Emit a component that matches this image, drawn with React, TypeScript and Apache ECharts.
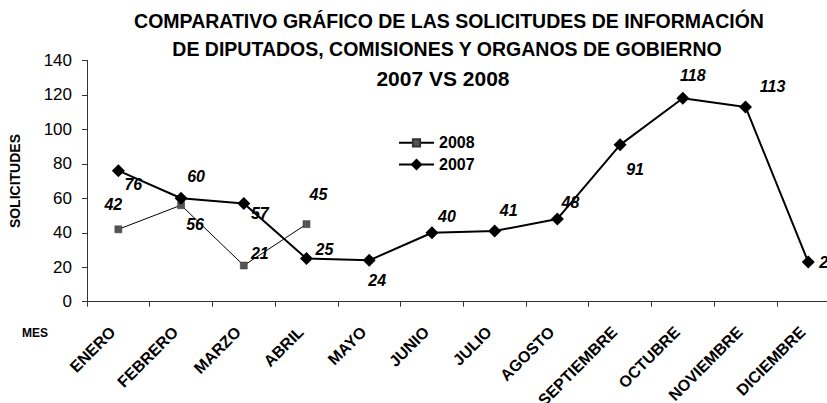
import React, { useEffect, useRef } from "react";
import * as echarts from "echarts";

const months = [
  "ENERO", "FEBRERO", "MARZO", "ABRIL", "MAYO", "JUNIO",
  "JULIO", "AGOSTO", "SEPTIEMBRE", "OCTUBRE", "NOVIEMBRE", "DICIEMBRE",
];
const values2007 = [76, 60, 57, 25, 24, 40, 41, 48, 91, 118, 113, 23];
const values2008 = [42, 56, 21, 45];
const seriesNames = ["2008", "2007"];
const titleLines = [
  "COMPARATIVO GRÁFICO DE LAS SOLICITUDES DE INFORMACIÓN",
  "DE DIPUTADOS, COMISIONES Y ORGANOS DE GOBIERNO",
  "2007 VS 2008",
];
const yName = "SOLICITUDES";
const xName = "MES";

// label placement (offsets from each point, in px)
const labelOffsets2007 = [
  [15, 14], [15, -22], [16, 10], [18, -9], [8, 20], [15, -16],
  [14, -21], [13, -16], [15, 25], [10, -23], [27, -20], [20, 0],
];
const labelOffsets2008 = [[-5, -25], [14, 19], [16, -12], [12, -30]];

const FONT = "'Liberation Sans', Arial, sans-serif";

export default function App() {
  const ref = useRef<HTMLDivElement>(null);
  useEffect(() => {
    if (!ref.current) return;
    const chart = echarts.init(ref.current, undefined, { renderer: "svg" });
    const labelStyle = {
      show: true,
      position: "inside",
      fontSize: 16,
      fontWeight: "bold",
      fontStyle: "italic",
      fontFamily: FONT,
      color: "#000",
    };
    const legendText = { fontSize: 16, fontWeight: "bold", color: "#000", fontFamily: FONT };
    const titleText = (text: string, x: number, y: number, size: number) => ({
      type: "text",
      x,
      y,
      style: {
        text,
        textAlign: "center",
        textVerticalAlign: "middle",
        font: `bold ${size}px ${FONT}`,
        fill: "#000",
      },
    });
    chart.setOption({
      animation: false,
      backgroundColor: "#fff",
      textStyle: { fontFamily: FONT },
      graphic: [
        titleText(titleLines[0], 449, 21, 19.5),
        titleText(titleLines[1], 447, 49, 19.5),
        titleText(titleLines[2], 443, 78, 21),
        {
          type: "text",
          x: 22,
          y: 333,
          style: {
            text: xName,
            textAlign: "left",
            textVerticalAlign: "middle",
            font: `bold 12px ${FONT}`,
            fill: "#000",
          },
        },
      ],
      legend: [
        {
          data: [seriesNames[0]],
          left: 398,
          top: 134.8,
          padding: 0,
          itemWidth: 35,
          itemHeight: 9,
          textStyle: legendText,
        },
        {
          data: [seriesNames[1]],
          left: 398,
          top: 156.5,
          padding: 0,
          itemWidth: 35,
          itemHeight: 15,
          textStyle: legendText,
        },
      ],
      grid: {
        left: 87,
        top: 60.4,
        right: 20.4,
        bottom: 101.3,
        containLabel: false,
        outerBoundsMode: "none",
      },
      xAxis: {
        type: "category",
        data: months,
        boundaryGap: true,
        axisLine: { lineStyle: { color: "#333", width: 1 } },
        axisTick: { show: true, length: 5, lineStyle: { color: "#333" } },
        axisLabel: {
          rotate: 45,
          interval: 0,
          margin: 22,
          padding: [0, 8, 0, 0],
          fontSize: 16,
          fontWeight: "bold",
          color: "#000",
          fontFamily: FONT,
        },
      },
      yAxis: {
        type: "value",
        min: 0,
        max: 140,
        interval: 20,
        splitLine: { show: false },
        axisLine: { show: true, lineStyle: { color: "#333", width: 1 } },
        axisTick: { show: true, length: 5, lineStyle: { color: "#333" } },
        axisLabel: { fontSize: 17, margin: 15, color: "#000", fontFamily: FONT },
        name: yName,
        nameLocation: "middle",
        nameGap: 65,
        nameTextStyle: { fontSize: 14, fontWeight: "bold", color: "#000", fontFamily: FONT },
      },
      series: [
        {
          name: seriesNames[0],
          type: "line",
          data: values2008.map((v, i) => ({
            value: v,
            label: { offset: labelOffsets2008[i] },
          })),
          symbol: "rect",
          symbolSize: 7,
          itemStyle: { color: "#555", borderColor: "#333", borderWidth: 0.5 },
          lineStyle: { color: "#000", width: 1 },
          label: labelStyle,
          z: 2,
        },
        {
          name: seriesNames[1],
          type: "line",
          data: values2007.map((v, i) => ({
            value: v,
            label: { offset: labelOffsets2007[i] },
          })),
          symbol: "diamond",
          symbolSize: 13,
          itemStyle: { color: "#000" },
          lineStyle: { color: "#000", width: 2 },
          label: labelStyle,
          z: 3,
        },
      ],
    });
    return () => chart.dispose();
  }, []);
  return (
    <div
      style={{
        position: "fixed",
        left: 0,
        top: 0,
        width: 827,
        height: 403,
        overflow: "hidden",
        background: "#fff",
      }}
    >
      <div ref={ref} style={{ width: 860, height: 403 }} />
    </div>
  );
}
